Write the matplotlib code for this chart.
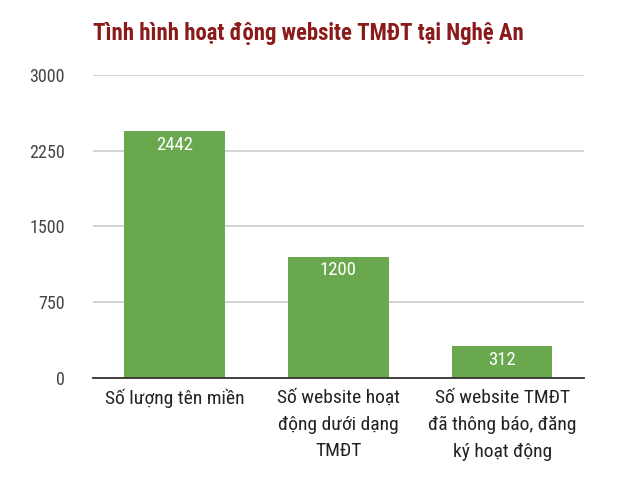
import matplotlib.pyplot as plt
from matplotlib import font_manager

# data
categories = ["Số lượng tên miền",
              "Số website hoạt\nđộng dưới dạng\nTMĐT",
              "Số website TMĐT\nđã thông báo, đăng\nký hoạt động"]
values = [2442, 1200, 312]
yticks = [0, 750, 1500, 2250, 3000]

names = {f.name for f in font_manager.fontManager.ttflist}
fam = [n for n in ["Liberation Sans Narrow", "Roboto Condensed", "Roboto", "DejaVu Sans"] if n in names]
plt.rcParams['font.family'] = fam + ['DejaVu Sans']

fig = plt.figure(figsize=(6.4, 4.94), dpi=100)
ax = fig.add_axes([0.145, 0.235, 0.7675, 0.613])

x = range(len(values))
bars = ax.bar(x, values, width=0.613, color='#6aa84f', zorder=3)
for b, v in zip(bars, values):
    ax.text(b.get_x() + b.get_width() / 2, v - 45, str(v), ha='center', va='top',
            color='white', fontsize=13.5, zorder=4)

ax.set_xlim(-0.5, 2.5)
ax.set_ylim(0, 3000)
ax.set_yticks(yticks)
ax.set_yticklabels([str(t) for t in yticks], fontsize=13, color='#444444')
ax.set_xticks(list(x))
ax.set_xticklabels(categories, fontsize=14, color='#222222', linespacing=1.62, va='top')
ax.tick_params(axis='both', length=0)
ax.tick_params(axis='y', pad=20)
ax.tick_params(axis='x', pad=8)
ax.yaxis.grid(True, color='#cccccc', linewidth=1.2, zorder=0)
for s in ['top', 'right', 'left']:
    ax.spines[s].set_visible(False)
ax.spines['bottom'].set_color('#333333')
ax.spines['bottom'].set_linewidth(1.3)
ax.spines['bottom'].set_zorder(5)

fig.text(0.146, 0.933, "Tình hình hoạt động website TMĐT tại Nghệ An", fontsize=16.4,
         fontweight='bold', color='#8b1a1a', ha='left', va='center')

fig.savefig('out.png', dpi=100, facecolor='white')
